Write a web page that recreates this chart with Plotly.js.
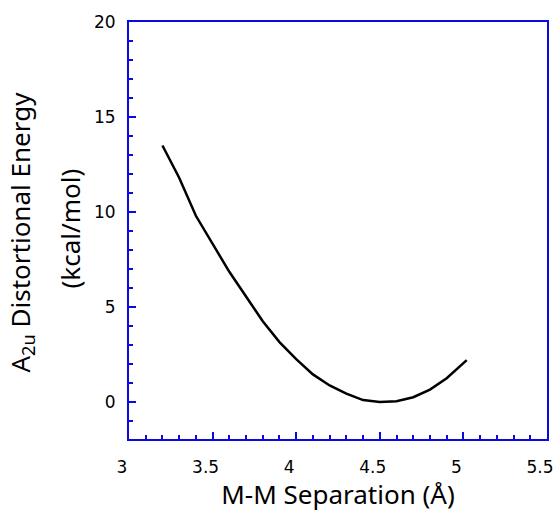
<!DOCTYPE html>
<html>
<head>
<meta charset="utf-8">
<script src="https://cdn.plot.ly/plotly-3.0.1.min.js"></script>
<style>html,body{margin:0;padding:0;background:#fff;}#chart{width:556px;height:512px;}</style>
</head>
<body>
<div id="chart"></div>
<script>
const separation = [3.2, 3.3, 3.4, 3.5, 3.6, 3.7, 3.8, 3.9, 4.0, 4.1, 4.2, 4.3, 4.4, 4.5, 4.6, 4.7, 4.8, 4.9, 5.0, 5.02];
const energy =     [13.5, 11.8, 9.8, 8.3, 6.85, 5.55, 4.25, 3.15, 2.25, 1.45, 0.87, 0.44, 0.1, 0.0, 0.04, 0.25, 0.65, 1.25, 2.0, 2.2];
const xTicks = [3, 3.5, 4, 4.5, 5, 5.5];
const xTickText = ["3", "3.5", "4", "4.5", "5", "5.5"];
const yTicks = [0, 5, 10, 15, 20];
const yTickText = ["0", "5", "10", "15", "20"];
const xTitle = "M-M Separation (Å)";
const yTitleLines = ["A<sub>2u</sub> Distortional Energy", "(kcal/mol)"];

const axisColor = "#0a0ae0";
const tickFam = "DejaVu Sans, Verdana, sans-serif";
const titleFam = "Noto Sans, DejaVu Sans, sans-serif";

Plotly.newPlot("chart", [{
  x: separation, y: energy, type: "scatter", mode: "lines",
  line: {color: "#000", width: 2.5}, hoverinfo: "skip"
}], {
  width: 556, height: 512,
  margin: {l: 129, r: 9, t: 22, b: 73},
  paper_bgcolor: "#fff", plot_bgcolor: "#fff",
  showlegend: false,
  font: {family: tickFam, size: 16, color: "#000"},
  xaxis: {
    range: [3, 5.5], tickvals: xTicks, ticktext: xTickText,
    ticks: "inside", ticklen: 7, tickwidth: 2, tickcolor: axisColor,
    minor: {ticks: "inside", dtick: 0.1, tick0: 3, ticklen: 4, tickwidth: 2, tickcolor: axisColor, showgrid: false},
    showline: true, linecolor: axisColor, linewidth: 2, mirror: true,
    showgrid: false, zeroline: false,
    tickfont: {family: tickFam, size: 17, color: "#000"},
    ticklabelstandoff: 12,
    ticklabelshift: -7,
    ticklabeloverflow: "allow",
    title: {text: xTitle, font: {family: titleFam, size: 26, color: "#000"}, standoff: 13}
  },
  yaxis: {
    range: [-1.95, 20], tickvals: yTicks, ticktext: yTickText,
    ticks: "inside", ticklen: 7, tickwidth: 2, tickcolor: axisColor,
    minor: {ticks: "inside", dtick: 1, tick0: 0, ticklen: 4, tickwidth: 2, tickcolor: axisColor, showgrid: false},
    showline: true, linecolor: axisColor, linewidth: 2, mirror: true,
    showgrid: false, zeroline: false,
    tickfont: {family: tickFam, size: 17, color: "#000"},
    ticklabelstandoff: 8
  },
  annotations: [
    {text: yTitleLines[0], xref: "paper", yref: "paper", x: 0, y: 0.5, xanchor: "center", yanchor: "middle",
     xshift: -109, yshift: -2, textangle: -90, showarrow: false, font: {family: titleFam, size: 26, color: "#000"}},
    {text: yTitleLines[1], xref: "paper", yref: "paper", x: 0, y: 0.5, xanchor: "center", yanchor: "middle",
     xshift: -60, yshift: 2, textangle: -90, showarrow: false, font: {family: titleFam, size: 26, color: "#000"}}
  ]
}, {staticPlot: true});
</script>
</body>
</html>
